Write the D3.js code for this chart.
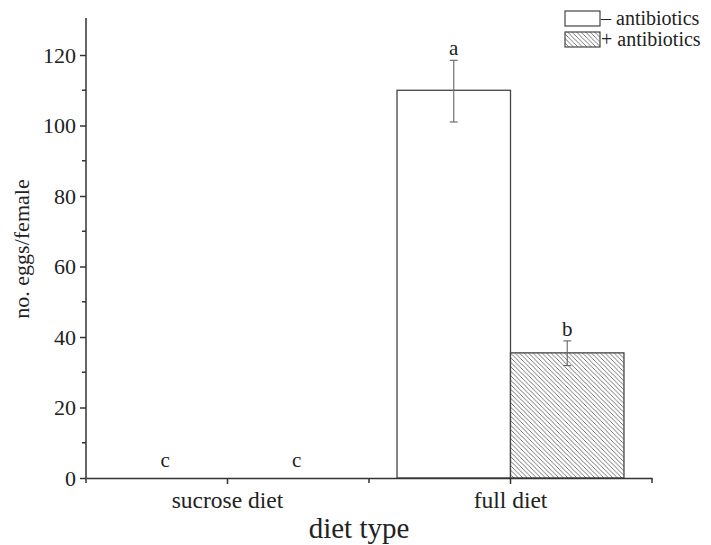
<!DOCTYPE html>
<html><head><meta charset="utf-8">
<script src="https://cdn.jsdelivr.net/npm/d3@7"></script>
<style>body{margin:0;background:#fff}svg{display:block}</style>
</head><body>
<svg id="c" width="711" height="545"></svg>
<script>
const categories = ["sucrose diet", "full diet"];
const seriesNames = ["\u2013 antibiotics", "+ antibiotics"];
const noAntibiotics = [0, 110];
const withAntibiotics = [0, 35.5];
const errNoAntibiotics = [[0, 0], [101, 118.5]];
const errWithAntibiotics = [[0, 0], [31.9, 38.9]];
const letterNo = ["c", "a"];
const letterWith = ["c", "b"];
const yTicks = [0, 20, 40, 60, 80, 100, 120];
const yMinor = [10, 30, 50, 70, 90, 110];

const svg = d3.select("#c");
const font = "'Liberation Serif','Times New Roman',serif";
const L = 86, R = 652, T = 18, B = 478;
const y = d3.scaleLinear().domain([0, 130.5]).range([B, T]);
const x = d3.scaleBand().domain(categories).range([L, R]).paddingInner(0).paddingOuter(0);
const xs = d3.scaleBand().domain([0, 1]).range([0, x.bandwidth()]).paddingOuter(0.247).paddingInner(0);

const defs = svg.append("defs");
const pat = defs.append("pattern").attr("id", "hatch").attr("patternUnits", "userSpaceOnUse")
  .attr("width", 4.5).attr("height", 4.5);
pat.append("rect").attr("width", 4.5).attr("height", 4.5).attr("fill", "#fff");
pat.append("path").attr("d", "M0,0 L4.5,4.5 M-1,3.5 L1,5.5 M3.5,-1 L5.5,1")
  .attr("stroke", "#666").attr("stroke-width", 0.9);

const axisColor = "#333";

// bars
const series = [
  {vals: noAntibiotics, err: errNoAntibiotics, letters: letterNo, fill: "#fff"},
  {vals: withAntibiotics, err: errWithAntibiotics, letters: letterWith, fill: "url(#hatch)"}
];
series.forEach((s, si) => {
  categories.forEach((c, ci) => {
    const x0 = x(c) + xs(si), w = xs.bandwidth();
    const v = s.vals[ci];
    if (v > 0) {
      svg.append("rect").attr("x", x0).attr("y", y(v)).attr("width", w).attr("height", y(0) - y(v))
        .attr("fill", s.fill).attr("stroke", "#444").attr("stroke-width", 1.3);
    }
    const cx = x0 + w / 2;
    const [lo, hi] = s.err[ci];
    if (hi > lo) {
      svg.append("line").attr("x1", cx).attr("x2", cx).attr("y1", y(hi)).attr("y2", y(lo))
        .attr("stroke", "#666").attr("stroke-width", 1.1);
      [lo, hi].forEach(e => svg.append("line").attr("x1", cx - 4).attr("x2", cx + 4)
        .attr("y1", y(e)).attr("y2", y(e)).attr("stroke", "#666").attr("stroke-width", 1.1));
    }
    const top = Math.max(hi, v);
    const off = ci === 0 ? (si === 0 ? -5.5 : 12.5) : 0;
    svg.append("text").attr("x", cx + off).attr("y", y(top) - (hi > 0 ? 5 : 11))
      .attr("text-anchor", "middle").attr("font-family", font).attr("font-size", 21)
      .attr("fill", "#222").text(s.letters[ci]);
  });
});

// y axis
const yAxis = d3.axisLeft(y).tickValues(yTicks).tickSize(6).tickPadding(4).tickSizeOuter(0);
const gy = svg.append("g").attr("transform", `translate(${L},0)`).call(yAxis);
gy.select(".domain").attr("d", `M0,${T}V${B}`);
gy.selectAll("line,path").attr("stroke", axisColor).attr("stroke-width", 1.5);
gy.selectAll("text").attr("font-family", font).attr("font-size", 22).attr("fill", "#222");
svg.append("g").selectAll("line").data(yMinor).join("line")
  .attr("x1", L - 4).attr("x2", L).attr("y1", d => y(d)).attr("y2", d => y(d))
  .attr("stroke", axisColor).attr("stroke-width", 1.5);

// x axis
const xAxis = d3.axisBottom(x).tickSize(6).tickPadding(6).tickSizeOuter(0);
const gx = svg.append("g").attr("transform", `translate(0,${B})`).call(xAxis);
gx.selectAll("line,path").attr("stroke", axisColor).attr("stroke-width", 1.5);
gx.selectAll("text").attr("font-family", font).attr("font-size", 23.5).attr("fill", "#222")
  .attr("dy", null).attr("y", 30);
const bounds = [L, x(categories[1]), R];
svg.append("g").selectAll("line").data(bounds).join("line")
  .attr("x1", d => d).attr("x2", d => d).attr("y1", B).attr("y2", B + 5)
  .attr("stroke", axisColor).attr("stroke-width", 1.5);

// axis titles
svg.append("text").attr("x", (L + R) / 2 - 10).attr("y", 538).attr("text-anchor", "middle")
  .attr("font-family", font).attr("font-size", 29).attr("fill", "#222").text("diet type");
svg.append("text").attr("transform", "translate(29,249) rotate(-90)").attr("text-anchor", "middle")
  .attr("font-family", font).attr("font-size", 22).attr("fill", "#222").text("no. eggs/female");

// legend
const lg = svg.append("g");
seriesNames.forEach((n, i) => {
  const yy = 11 + i * 21;
  lg.append("rect").attr("x", 565).attr("y", yy).attr("width", 35).attr("height", 15)
    .attr("fill", i === 0 ? "#fff" : "url(#hatch)").attr("stroke", "#444").attr("stroke-width", 1.2);
  lg.append("text").attr("x", 601).attr("y", yy + 14).attr("font-family", font)
    .attr("font-size", 20).attr("fill", "#222").text(n);
});
</script>
</body></html>
